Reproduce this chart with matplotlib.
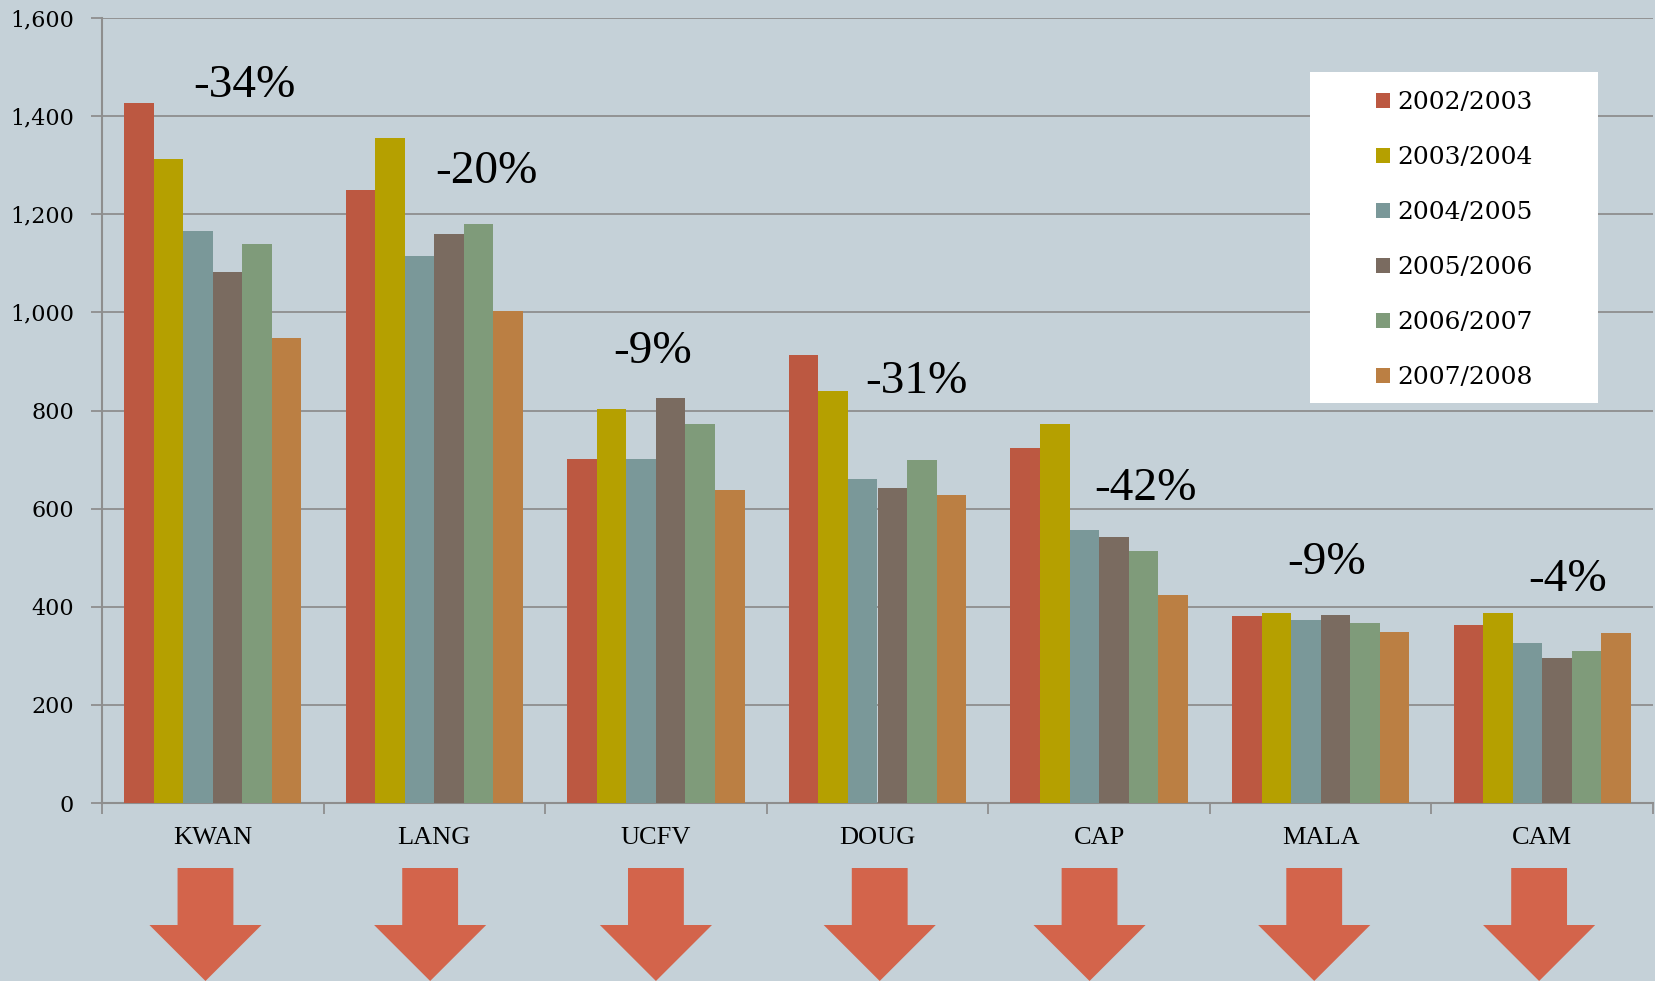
import matplotlib.pyplot as plt
import numpy as np
from matplotlib.patches import Polygon, Rectangle
from matplotlib.transforms import blended_transform_factory

################################################################################
# data

schools = ['KWAN', 'LANG', 'UCFV', 'DOUG', 'CAP', 'MALA', 'CAM']
years = ['2002/2003', '2003/2004', '2004/2005', '2005/2006', '2006/2007', '2007/2008']

y2002 = [1426, 1250, 702, 913, 724, 382, 363]
y2003 = [1312, 1355, 803, 840, 773, 387, 387]
y2004 = [1166, 1115, 702, 661, 556, 372, 326]
y2005 = [1082, 1160, 825, 642, 543, 384, 296]
y2006 = [1140, 1181, 773, 700, 513, 367, 309]
y2007 = [947, 1003, 638, 627, 423, 348, 346]

changes = ['-34%', '-20%', '-9%', '-31%', '-42%', '-9%', '-4%']
# where the change labels sit (x offset from group centre, value height)
change_dx = [0.145, 0.237, -0.015, 0.176, 0.21, 0.028, 0.116]
change_y = [1462, 1286, 920, 858, 641, 489, 455]
# arrows are not quite centred under the labels
arrow_dx = [-0.033, -0.019, 0.0, 0.01, -0.043, -0.029, -0.014]

series = [y2002, y2003, y2004, y2005, y2006, y2007]
colors = ['#BC5841', '#B5A000', '#7A9899', '#7A6B60', '#7F9B7A', '#BB7F43']

bg = '#C5D1D8'
arrow_col = '#D3644B'
grid_col = '#8E8E8E'

################################################################################

plt.rcParams['font.family'] = ['Liberation Serif', 'DejaVu Serif']

W, H = 1656, 981
fig = plt.figure(figsize=(W/100, H/100), dpi=100)
fig.patch.set_facecolor(bg)
ax = fig.add_axes([102/W, 1 - 803/H, (1653 - 102)/W, (803 - 18)/H])
ax.set_facecolor(bg)

x = np.arange(len(schools))
group_w = 0.8
bw = group_w / len(series)
for k, (vals, col, lab) in enumerate(zip(series, colors, years)):
    ax.bar(x - group_w/2 + bw*(k + 0.5), vals, width=bw, color=col, label=lab,
           zorder=3, linewidth=0)

ax.set_xlim(-0.5, len(schools) - 0.5)
ax.set_ylim(0, 1600)
ax.set_yticks(np.arange(0, 1601, 200))
ax.yaxis.set_major_formatter(plt.FuncFormatter(lambda v, p: f'{int(v):,}'))
ax.grid(axis='y', color=grid_col, linewidth=1.3, zorder=0)

ax.set_xticks(x)
ax.set_xticklabels(schools, fontsize=19)
ax.set_xticks(np.arange(-0.5, len(schools)), minor=True)
ax.tick_params(axis='x', which='major', length=0, pad=17)
ax.tick_params(axis='x', which='minor', length=8, width=1.3, color=grid_col)
ax.tick_params(axis='y', length=8, width=1.3, color=grid_col, labelsize=16, pad=12)
for t in ax.get_yticklabels():
    t.set_family('DejaVu Serif')

for s in ['top', 'right']:
    ax.spines[s].set_visible(False)
for s in ['left', 'bottom']:
    ax.spines[s].set_color(grid_col)
    ax.spines[s].set_linewidth(1.5)

# percentage change labels
for i, (txt, dx, yy) in enumerate(zip(changes, change_dx, change_y)):
    ax.text(i + dx, yy, txt, fontsize=34, ha='center', va='center', zorder=5)

# down arrows under each school
trans = blended_transform_factory(ax.transData, fig.transFigure)
shaft = 0.126
head = 0.253
y_top, y_base, y_tip = 1 - 868/H, 1 - 925/H, 0.0
for i, dx in zip(x, arrow_dx):
    c = i + dx
    pts = [(c - shaft, y_top), (c + shaft, y_top), (c + shaft, y_base),
           (c + head, y_base), (c, y_tip), (c - head, y_base), (c - shaft, y_base)]
    fig.patches.append(Polygon(pts, closed=True, transform=trans,
                               facecolor=arrow_col, edgecolor='none'))

# white legend box, legend itself drawn without frame
fig.patches.append(Rectangle((1310/W, 1 - 403/H), (1598 - 1310)/W, (403 - 72)/H,
                             transform=fig.transFigure, facecolor='white',
                             edgecolor='none', zorder=5))
leg = fig.legend(*ax.get_legend_handles_labels(), loc='upper left',
                 bbox_to_anchor=(1376/W, 1 - 91/H), frameon=False,
                 prop={'family': 'DejaVu Serif', 'size': 18},
                 handlelength=0.56, handleheight=0.56, handletextpad=0.3,
                 labelspacing=1.28, borderpad=0, borderaxespad=0)
leg.set_zorder(6)

fig.savefig('out.png', dpi=100, facecolor=bg)
